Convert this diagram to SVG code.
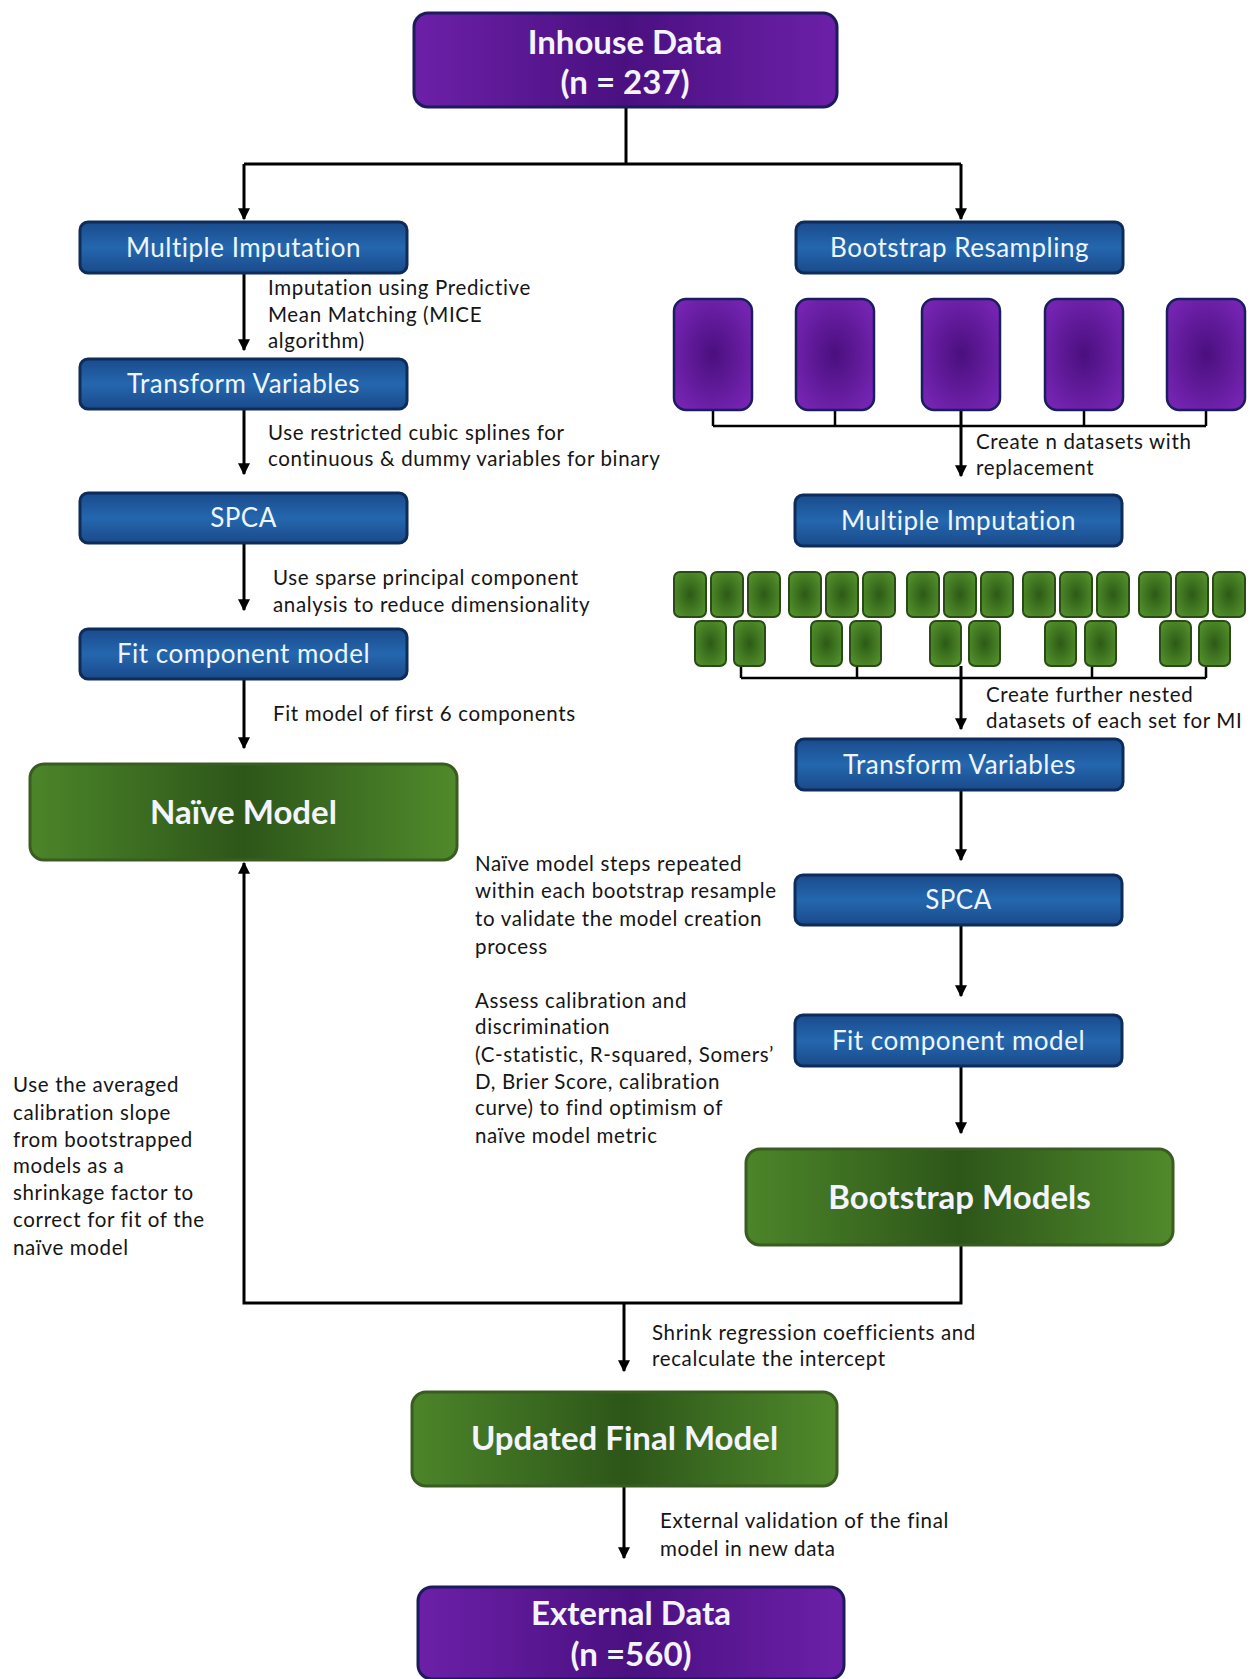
<svg xmlns="http://www.w3.org/2000/svg" width="1254" height="1679" viewBox="0 0 1254 1679">
<defs>
<linearGradient id="gPurple" x1="0" y1="0" x2="1" y2="0">
<stop offset="0" stop-color="#6c20a8"/><stop offset="0.5" stop-color="#4a1080"/><stop offset="1" stop-color="#6c20a8"/>
</linearGradient>
<radialGradient id="gPurpleS" cx="0.5" cy="0.5" r="0.6">
<stop offset="0" stop-color="#4a0f7e"/><stop offset="1" stop-color="#7524b2"/>
</radialGradient>
<linearGradient id="gBlue" x1="0" y1="0" x2="0" y2="1">
<stop offset="0" stop-color="#1a4b8c"/><stop offset="0.5" stop-color="#2467ae"/><stop offset="1" stop-color="#1a4a8a"/>
</linearGradient>
<linearGradient id="gGreen" x1="0" y1="0" x2="1" y2="0">
<stop offset="0" stop-color="#4c8529"/><stop offset="0.5" stop-color="#2d5619"/><stop offset="1" stop-color="#508a2b"/>
</linearGradient>
<radialGradient id="gGreenS" cx="0.5" cy="0.5" r="0.6">
<stop offset="0" stop-color="#2d5a16"/><stop offset="1" stop-color="#52902b"/>
</radialGradient>
<marker id="arr" viewBox="0 0 10 10" refX="9" refY="5" markerWidth="4" markerHeight="4" orient="auto-start-reverse" markerUnits="strokeWidth">
<path d="M0,0 L10,5 L0,10 z" fill="#000"/>
</marker>
<style>
.purple{fill:url(#gPurple);stroke:#1d1b5c;stroke-width:3}
.purpleS{fill:url(#gPurpleS);stroke:#1b1d5e;stroke-width:2.5}
.blue{fill:url(#gBlue);stroke:#0e2c5a;stroke-width:3}
.green{fill:url(#gGreen);stroke:#3a5c22;stroke-width:3}
.greenS{fill:url(#gGreenS);stroke:#2b4a18;stroke-width:2}
.conn{fill:none;stroke:#000;stroke-width:3}
.thin{fill:none;stroke:#000;stroke-width:2.5}
.bt{font-family:Lato,"Liberation Sans",sans-serif;font-size:26px;letter-spacing:0.5px;fill:#eef6ff;text-anchor:middle}
.big{font-family:Lato,"Liberation Sans",sans-serif;font-size:33px;font-weight:bold;fill:#f4f4ff;text-anchor:middle}
.lbl{font-family:Lato,"Liberation Sans",sans-serif;font-size:20.5px;letter-spacing:0.65px;fill:#151515}
</style>
</defs>
<rect width="1254" height="1679" fill="#fff"/>

<g id="connectors">
<path class="conn" d="M626 107 V164 M244 164 H961"/>
<path class="conn" d="M244 164 V219" marker-end="url(#arr)"/>
<path class="conn" d="M961 164 V219" marker-end="url(#arr)"/>
<path class="conn" d="M244 273 V350" marker-end="url(#arr)"/>
<path class="conn" d="M244 409 V474" marker-end="url(#arr)"/>
<path class="conn" d="M244 543 V610" marker-end="url(#arr)"/>
<path class="conn" d="M244 679 V748" marker-end="url(#arr)"/>
<path class="thin" d="M713 410 V426 M835 410 V426 M1084 410 V426 M1206 410 V426 M713 426 H1206"/>
<path class="conn" d="M961 410 V476" marker-end="url(#arr)"/>
<path class="thin" d="M741 666 V678 M857 666 V678 M1092 666 V678 M1206 666 V678 M741 678 H1206"/>
<path class="conn" d="M961 666 V729" marker-end="url(#arr)"/>
<path class="conn" d="M961 790 V860" marker-end="url(#arr)"/>
<path class="conn" d="M961 925 V996" marker-end="url(#arr)"/>
<path class="conn" d="M961 1066 V1133" marker-end="url(#arr)"/>
<path class="conn" d="M961 1245 V1303 H244 V863" marker-end="url(#arr)"/>
<path class="conn" d="M624 1303 V1371" marker-end="url(#arr)"/>
<path class="conn" d="M624 1486 V1558" marker-end="url(#arr)"/>
</g>

<g id="inhouse"><rect class="purple" x="414" y="13" width="423" height="94" rx="14"/>
<text class="big" x="625" y="54">Inhouse Data</text><text class="big" x="625" y="94">(n = 237)</text></g>

<g id="mi-left"><rect class="blue" x="80" y="222" width="327" height="51" rx="8"/><text class="bt" x="243.5" y="257">Multiple Imputation</text></g>
<g id="tv-left"><rect class="blue" x="80" y="359" width="327" height="50" rx="8"/><text class="bt" x="243.5" y="393">Transform Variables</text></g>
<g id="spca-left"><rect class="blue" x="80" y="493" width="327" height="50" rx="8"/><text class="bt" x="243.5" y="527">SPCA</text></g>
<g id="fcm-left"><rect class="blue" x="80" y="629" width="327" height="50" rx="8"/><text class="bt" x="243.5" y="663">Fit component model</text></g>
<g id="naive"><rect class="green" x="30" y="764" width="427" height="96" rx="14"/><text class="big" x="243.5" y="824">Naïve Model</text></g>

<g id="br"><rect class="blue" x="796" y="222" width="327" height="51" rx="8"/><text class="bt" x="959.5" y="257">Bootstrap Resampling</text></g>
<g id="boot-sets">
<rect class="purpleS" x="674" y="299" width="78" height="111" rx="12"/>
<rect class="purpleS" x="796" y="299" width="78" height="111" rx="12"/>
<rect class="purpleS" x="922" y="299" width="78" height="111" rx="12"/>
<rect class="purpleS" x="1045" y="299" width="78" height="111" rx="12"/>
<rect class="purpleS" x="1167" y="299" width="78" height="111" rx="12"/>
</g>
<g id="mi-right"><rect class="blue" x="795" y="495" width="327" height="51" rx="8"/><text class="bt" x="958.5" y="530">Multiple Imputation</text></g>
<g id="mi-sets">
<rect class="greenS" x="674" y="572" width="32" height="45" rx="6"/><rect class="greenS" x="711" y="572" width="32" height="45" rx="6"/><rect class="greenS" x="748" y="572" width="32" height="45" rx="6"/>
<rect class="greenS" x="789" y="572" width="32" height="45" rx="6"/><rect class="greenS" x="826" y="572" width="32" height="45" rx="6"/><rect class="greenS" x="863" y="572" width="32" height="45" rx="6"/>
<rect class="greenS" x="907" y="572" width="32" height="45" rx="6"/><rect class="greenS" x="944" y="572" width="32" height="45" rx="6"/><rect class="greenS" x="981" y="572" width="32" height="45" rx="6"/>
<rect class="greenS" x="1023" y="572" width="32" height="45" rx="6"/><rect class="greenS" x="1060" y="572" width="32" height="45" rx="6"/><rect class="greenS" x="1097" y="572" width="32" height="45" rx="6"/>
<rect class="greenS" x="1139" y="572" width="32" height="45" rx="6"/><rect class="greenS" x="1176" y="572" width="32" height="45" rx="6"/><rect class="greenS" x="1213" y="572" width="32" height="45" rx="6"/>
<rect class="greenS" x="695" y="621" width="31" height="45" rx="6"/><rect class="greenS" x="734" y="621" width="31" height="45" rx="6"/>
<rect class="greenS" x="811" y="621" width="31" height="45" rx="6"/><rect class="greenS" x="850" y="621" width="31" height="45" rx="6"/>
<rect class="greenS" x="930" y="621" width="31" height="45" rx="6"/><rect class="greenS" x="969" y="621" width="31" height="45" rx="6"/>
<rect class="greenS" x="1045" y="621" width="31" height="45" rx="6"/><rect class="greenS" x="1085" y="621" width="31" height="45" rx="6"/>
<rect class="greenS" x="1160" y="621" width="31" height="45" rx="6"/><rect class="greenS" x="1199" y="621" width="31" height="45" rx="6"/>
</g>
<g id="tv-right"><rect class="blue" x="796" y="739" width="327" height="51" rx="8"/><text class="bt" x="959.5" y="774">Transform Variables</text></g>
<g id="spca-right"><rect class="blue" x="795" y="875" width="327" height="50" rx="8"/><text class="bt" x="958.5" y="909">SPCA</text></g>
<g id="fcm-right"><rect class="blue" x="795" y="1015" width="327" height="51" rx="8"/><text class="bt" x="958.5" y="1050">Fit component model</text></g>
<g id="bootstrap-models"><rect class="green" x="746" y="1149" width="427" height="96" rx="14"/><text class="big" x="959.5" y="1209">Bootstrap Models</text></g>
<g id="updated"><rect class="green" x="412" y="1392" width="425" height="94" rx="14"/><text class="big" x="624.5" y="1450">Updated Final Model</text></g>
<g id="external"><rect class="purple" x="418" y="1587" width="426" height="92" rx="14"/>
<text class="big" x="631" y="1625">External Data</text><text class="big" x="631" y="1666">(n =560)</text></g>

<g id="labels">
<text class="lbl" x="268" y="295">Imputation using Predictive</text>
<text class="lbl" x="268" y="322">Mean Matching (MICE</text>
<text class="lbl" x="268" y="348">algorithm)</text>
<text class="lbl" x="268" y="440">Use restricted cubic splines for</text>
<text class="lbl" x="268" y="466">continuous &amp; dummy variables for binary</text>
<text class="lbl" x="273" y="585">Use sparse principal component</text>
<text class="lbl" x="273" y="612">analysis to reduce dimensionality</text>
<text class="lbl" x="273" y="721">Fit model of first 6 components</text>
<text class="lbl" x="976" y="449">Create n datasets with</text>
<text class="lbl" x="976" y="475">replacement</text>
<text class="lbl" x="986" y="702">Create further nested</text>
<text class="lbl" x="986" y="728">datasets of each set for MI</text>
<text class="lbl" x="475" y="871">Naïve model steps repeated</text>
<text class="lbl" x="475" y="898">within each bootstrap resample</text>
<text class="lbl" x="475" y="926">to validate the model creation</text>
<text class="lbl" x="475" y="954">process</text>
<text class="lbl" x="475" y="1008">Assess calibration and</text>
<text class="lbl" x="475" y="1034">discrimination</text>
<text class="lbl" x="475" y="1062">(C-statistic, R-squared, Somers’</text>
<text class="lbl" x="475" y="1089">D, Brier Score, calibration</text>
<text class="lbl" x="475" y="1115">curve) to find optimism of</text>
<text class="lbl" x="475" y="1143">naïve model metric</text>
<text class="lbl" x="13" y="1092">Use the averaged</text>
<text class="lbl" x="13" y="1120">calibration slope</text>
<text class="lbl" x="13" y="1147">from bootstrapped</text>
<text class="lbl" x="13" y="1173">models as a</text>
<text class="lbl" x="13" y="1200">shrinkage factor to</text>
<text class="lbl" x="13" y="1227">correct for fit of the</text>
<text class="lbl" x="13" y="1255">naïve model</text>
<text class="lbl" x="652" y="1340">Shrink regression coefficients and</text>
<text class="lbl" x="652" y="1366">recalculate the intercept</text>
<text class="lbl" x="660" y="1528">External validation of the final</text>
<text class="lbl" x="660" y="1556">model in new data</text>
</g>
</svg>
